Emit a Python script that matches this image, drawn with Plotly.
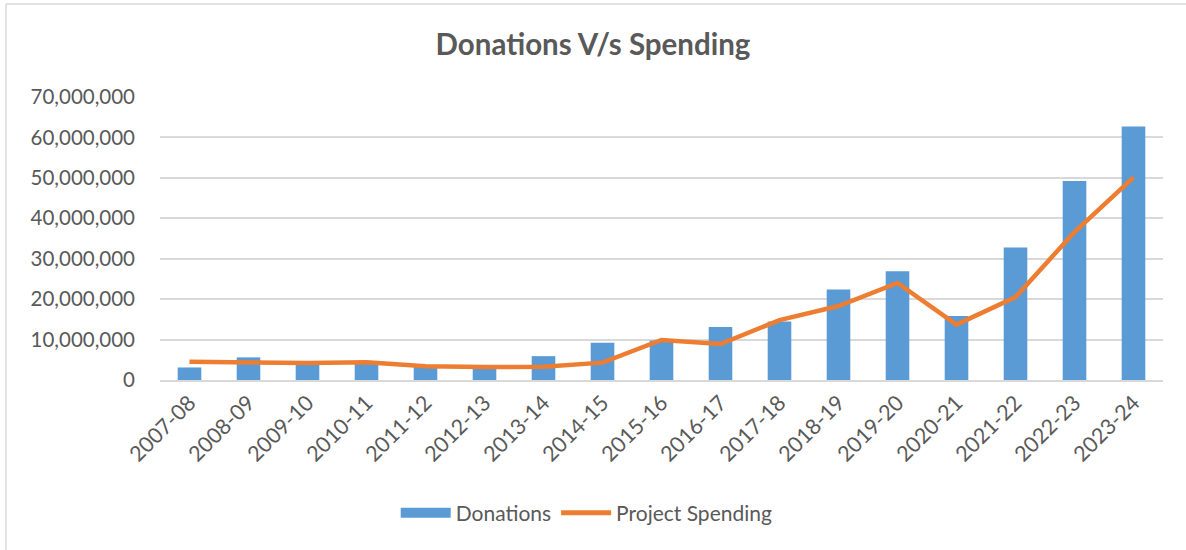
import plotly.graph_objects as go

years = ["2007-08", "2008-09", "2009-10", "2010-11", "2011-12", "2012-13", "2013-14",
         "2014-15", "2015-16", "2016-17", "2017-18", "2018-19", "2019-20", "2020-21",
         "2021-22", "2022-23", "2023-24"]
donations = [3.1e6, 5.6e6, 4.1e6, 4.0e6, 3.3e6, 2.8e6, 5.9e6,
             9.2e6, 9.8e6, 13.1e6, 14.5e6, 22.4e6, 26.9e6, 15.8e6,
             32.8e6, 49.2e6, 62.7e6]
spending = [4.5e6, 4.3e6, 4.2e6, 4.4e6, 3.4e6, 3.2e6, 3.3e6,
            4.3e6, 9.9e6, 8.9e6, 14.8e6, 18.3e6, 24.0e6, 13.7e6,
            20.5e6, 36.6e6, 50.1e6]
y_ticks = [0, 10e6, 20e6, 30e6, 40e6, 50e6, 60e6, 70e6]
y_labels = ["0", "10,000,000", "20,000,000", "30,000,000", "40,000,000",
            "50,000,000", "60,000,000", "70,000,000"]

FONT = "Lato, Calibri, 'Open Sans', sans-serif"
GRAY = "#595959"
BLUE = "#5B9BD5"
ORANGE = "#ED7D31"

fig = go.Figure()
fig.add_trace(go.Bar(x=years, y=donations, name="Donations", showlegend=False,
                     marker=dict(color=BLUE, line=dict(width=0)), width=0.4))
fig.add_trace(go.Scatter(x=years, y=spending, name="Project Spending", mode="lines",
                         showlegend=False, line=dict(color=ORANGE, width=4.5)))
# legend entries styled like the reference (wide block for bars, thick line)
fig.add_trace(go.Scatter(x=[None], y=[None], name="Donations", mode="lines",
                         line=dict(color=BLUE, width=14)))
fig.add_trace(go.Scatter(x=[None], y=[None], name="Project Spending", mode="lines",
                         line=dict(color=ORANGE, width=5)))

fig.update_layout(
    width=1186, height=550,
    margin=dict(l=160, r=23, t=97, b=170),
    paper_bgcolor="white", plot_bgcolor="white",
    font=dict(family=FONT, color=GRAY, size=20),
    title=dict(text="<b>Donations V/s Spending</b>", x=0.5, xanchor="center",
               y=0.918, yanchor="middle", font=dict(size=29.5, color=GRAY, family=FONT)),
    showlegend=True,
    legend=dict(orientation="h", x=0.235, xanchor="left", y=-0.47, yanchor="middle",
                font=dict(size=21, color=GRAY), traceorder="normal", itemwidth=50),
)
fig.update_xaxes(type="category", tickangle=-45, showgrid=False, showline=True,
                 linecolor="#D9D9D9", linewidth=1.5, ticks="",
                 tickfont=dict(size=21.5, color=GRAY))
fig.update_yaxes(range=[0, 70e6], tickvals=y_ticks, ticktext=y_labels,
                 showgrid=True, gridcolor="#D9D9D9", gridwidth=1.5, zeroline=False,
                 showline=False, ticks="", ticklabelstandoff=24,
                 tickfont=dict(size=20.5, color=GRAY))

# outer chart border (left and top edges visible)
fig.add_shape(type="line", xref="paper", yref="paper",
              x0=(6 - 160) / 1003, x1=(6 - 160) / 1003,
              y0=(380 - 560) / 283, y1=(380 - 4) / 283,
              line=dict(color="#D9D9D9", width=1.5))
fig.add_shape(type="line", xref="paper", yref="paper",
              x0=(6 - 160) / 1003, x1=(1190 - 160) / 1003,
              y0=(380 - 4) / 283, y1=(380 - 4) / 283,
              line=dict(color="#D9D9D9", width=1.5))

fig.write_html("out.html")
